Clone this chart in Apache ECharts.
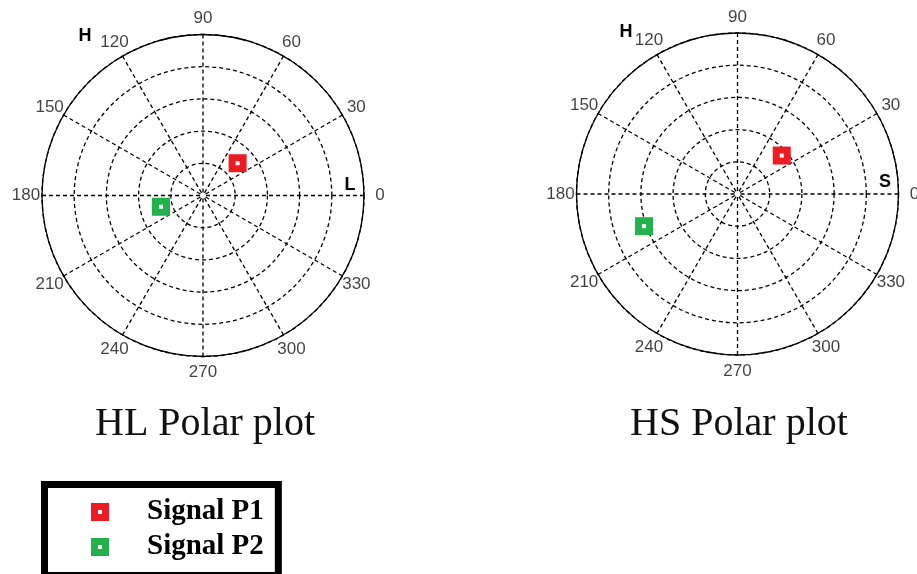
<!DOCTYPE html>
<html>
<head>
<meta charset="utf-8">
<script src="https://cdn.jsdelivr.net/npm/echarts@6/dist/echarts.min.js"></script>
<style>
  html, body { margin: 0; padding: 0; background: #fff; }
  #chart { width: 917px; height: 574px; }
</style>
</head>
<body>
<div id="chart"></div>
<script>
// Angle ticks (degrees) shown round each polar plot
const angleTicks = [0, 30, 60, 90, 120, 150, 180, 210, 240, 270, 300, 330];

// Signals and their colours
const signalNames = ['Signal P1', 'Signal P2'];
const signalColors = ['#ED1C24', '#22B14C'];

// HL plane: radius and angle (degrees) for each signal
const hlRadius = [1.47, 1.35];
const hlAngle = [43, 195];

// HS plane: radius and angle (degrees) for each signal
const hsRadius = [1.82, 3.07];
const hsAngle = [41, 199];

// Plot captions and axis letters
const plotTitles = ['HL Polar plot', 'HS Polar plot'];
const axisLetters = [['H', 'L'], ['H', 'S']];

const R_MAX = 5;
const LABEL_R = R_MAX * 1.1;
const DASH = [4, 3];
const SANS = '"Liberation Sans", Arial, sans-serif';
const SERIF = '"Liberation Serif", "Times New Roman", serif';

const planes = [
  { radius: hlRadius, angle: hlAngle, center: [203, 195.5] },
  { radius: hsRadius, angle: hsAngle, center: [737.5, 194] }
];

const markerIcon = 'path://M0,0H18V18H0Z M7,7V11H11V7Z';

const polar = planes.map(p => ({ center: p.center, radius: 161 }));

const angleAxis = planes.map((p, i) => ({
  polarIndex: i,
  type: 'value',
  min: 0,
  max: 360,
  interval: 30,
  startAngle: 0,
  clockwise: false,
  axisLine: { show: true, lineStyle: { color: '#000', width: 1.3, type: 'solid' } },
  axisTick: { show: false },
  axisLabel: { show: false },
  splitLine: { show: true, lineStyle: { color: '#000', width: 1.3, type: DASH } }
}));

const radiusAxis = planes.map((p, i) => ({
  polarIndex: i,
  type: 'value',
  min: 0,
  max: R_MAX,
  interval: 1,
  axisLine: { show: false },
  axisTick: { show: false },
  axisLabel: { show: false },
  splitLine: { show: true, lineStyle: { color: '#000', width: 1.3, type: DASH } }
}));

const series = [];
planes.forEach((p, i) => {
  // angle labels just outside the outer ring
  series.push({
    type: 'scatter',
    name: 'angle-labels-' + i,
    coordinateSystem: 'polar',
    polarIndex: i,
    clip: false,
    silent: true,
    symbolSize: 0,
    data: angleTicks.map(a => [LABEL_R, a]),
    label: {
      show: true,
      position: 'inside',
      formatter: d => String(d.value[1]),
      fontFamily: SANS,
      fontSize: 17,
      color: '#111'
    },
    z: 2
  });
  // signal markers
  signalNames.forEach((name, k) => {
    series.push({
      type: 'scatter',
      name: name,
      coordinateSystem: 'polar',
      polarIndex: i,
      clip: false,
      symbol: 'rect',
      symbolSize: 18,
      itemStyle: { color: signalColors[k], opacity: 1 },
      data: [[p.radius[k], p.angle[k]]],
      z: 3
    });
  });
  // white centre dot of each marker
  series.push({
    type: 'scatter',
    name: 'marker-centre-' + i,
    coordinateSystem: 'polar',
    polarIndex: i,
    clip: false,
    silent: true,
    symbol: 'rect',
    symbolSize: 4,
    itemStyle: { color: '#fff', opacity: 1 },
    data: signalNames.map((n, k) => [p.radius[k], p.angle[k]]),
    z: 4
  });
});

const title = plotTitles.map((t, i) => ({
  text: t,
  left: [205, 739][i],
  top: 404,
  textAlign: 'center',
  padding: 0,
  textStyle: {
    fontFamily: SERIF,
    fontWeight: 'normal',
    fontSize: 40,
    lineHeight: 40,
    color: '#111'
  }
}));

const letterPos = [[[85, 36], [350, 185]], [[626, 32], [885, 182]]];
const graphic = [];
axisLetters.forEach((pair, i) => {
  pair.forEach((letter, j) => {
    graphic.push({
      type: 'text',
      x: letterPos[i][j][0],
      y: letterPos[i][j][1],
      style: {
        text: letter,
        font: 'bold 18px ' + SANS,
        fill: '#000',
        align: 'center',
        verticalAlign: 'middle'
      },
      z: 10
    });
  });
});

const chart = echarts.init(document.getElementById('chart'), null, { renderer: 'canvas' });
chart.setOption({
  animation: false,
  backgroundColor: '#fff',
  title: title,
  polar: polar,
  angleAxis: angleAxis,
  radiusAxis: radiusAxis,
  legend: {
    data: signalNames.map(n => ({ name: n, icon: markerIcon })),
    orient: 'vertical',
    left: 44.5,
    top: 484.5,
    height: 66,
    itemWidth: 18,
    itemHeight: 18,
    itemGap: 6,
    selectedMode: false,
    padding: [13, 14.5, 14, 46.5],
    borderColor: '#000',
    borderWidth: 7,
    backgroundColor: '#fff',
    textStyle: {
      fontFamily: SERIF,
      fontWeight: 'bold',
      fontSize: 29,
      lineHeight: 28,
      color: '#000',
      padding: [0, 0, 0, 33]
    }
  },
  graphic: graphic,
  series: series
});
</script>
</body>
</html>
